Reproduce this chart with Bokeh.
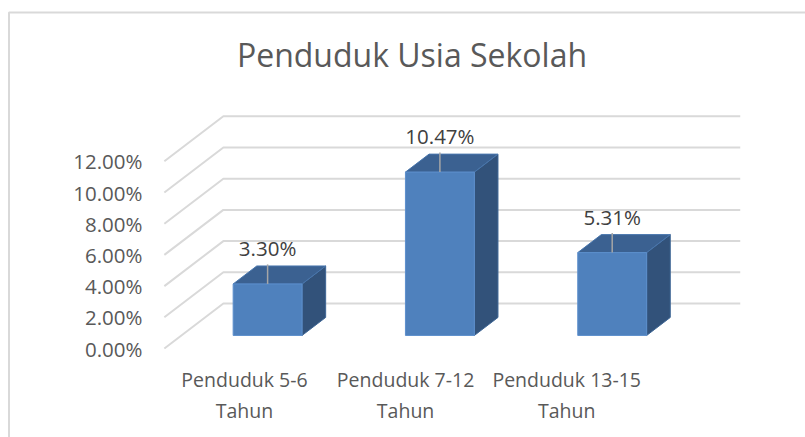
from bokeh.plotting import figure
from bokeh.models import ColumnDataSource, Range1d
from bokeh.embed import file_html
from bokeh.resources import INLINE
from bokeh.core.properties import value

# ---------------- data ----------------
chart_title = "Penduduk Usia Sekolah"
categories = ["Penduduk 5-6 Tahun", "Penduduk 7-12 Tahun", "Penduduk 13-15 Tahun"]
values = [3.30, 10.47, 5.31]
data_labels = ["3.30%", "10.47%", "5.31%"]
y_ticks = [0, 2, 4, 6, 8, 10, 12]
y_tick_labels = ["0.00%", "2.00%", "4.00%", "6.00%", "8.00%", "10.00%", "12.00%"]

# ---------------- layout constants ----------------
W, H = 805, 437
PX_CAT = 172.3      # pixels per category step
PX_PCT = 15.6       # pixels per percent point
ORIGIN_X = 250.0    # canvas px of category 0 (front plane)
ORIGIN_Y = 348.0    # canvas px (from top) of 0 % (front plane)
DEPTH_PX = (59.0, 45.0)
DX = DEPTH_PX[0] / PX_CAT
DY = DEPTH_PX[1] / PX_PCT
BAR_D0, BAR_D1 = 0.29, 0.69
BAR_W = 0.40
WALL_L, WALL_R = -0.5, 2.5

FONT = value("Open Sans")
GRID_C = "#d9d9d9"
TEXT_C = "#595959"
LABEL_C = "#404040"

def cx(px):
    return (px - ORIGIN_X) / PX_CAT

def cy(py):
    return (ORIGIN_Y - py) / PX_PCT

p = figure(width=W, height=H, title=None, min_border=0,
           x_range=Range1d(cx(0), cx(W)), y_range=Range1d(cy(H), cy(0)),
           x_axis_type=None, y_axis_type=None,
           toolbar_location=None, output_backend="svg")
p.outline_line_color = None
p.background_fill_color = "white"
p.border_fill_color = "white"

# chart border (left & top)
p.line(x=[cx(8.5), cx(8.5), cx(W)], y=[cy(H), cy(12), cy(12)],
       line_color=GRID_C, line_width=2)

# gridlines: side wall + back wall
gx, gy = [], []
for v in y_ticks:
    gx.append([WALL_L, WALL_L + DX, WALL_R + DX])
    gy.append([v, v + DY, v + DY])
p.multi_line(xs=gx, ys=gy, line_color=GRID_C, line_width=2)

# bars
ddx = (BAR_D1 - BAR_D0) * DX
ddy = (BAR_D1 - BAR_D0) * DY
fl, fr, fb, ft = [], [], [], []
top_x, top_y, side_x, side_y = [], [], [], []
for i, v in enumerate(values):
    xl = i - BAR_W / 2 + BAR_D0 * DX
    xr = i + BAR_W / 2 + BAR_D0 * DX
    yb = BAR_D0 * DY
    yt = v + BAR_D0 * DY
    fl.append(xl); fr.append(xr); fb.append(yb); ft.append(yt)
    top_x.append([xl, xr, xr + ddx, xl + ddx])
    top_y.append([yt, yt, yt + ddy, yt + ddy])
    side_x.append([xr, xr + ddx, xr + ddx, xr])
    side_y.append([yb, yb + ddy, yt + ddy, yt])

p.patches(xs=side_x, ys=side_y, fill_color="#32527a", line_color="#3f6796", line_width=1)
p.patches(xs=top_x, ys=top_y, fill_color="#3b6191", line_color="#4876ad", line_width=1)
p.quad(left=fl, right=fr, bottom=fb, top=ft, fill_color="#4f81bd",
       line_color="#5d8fcc", line_width=1)

# leader lines
lx = [i + BAR_D0 * DX for i in range(len(values))]
ly0 = [v + BAR_D0 * DY for v in values]
ly1 = [v + BAR_D1 * DY + 0.1 for v in values]
p.segment(x0=lx, y0=ly0, x1=lx, y1=ly1, line_color="#a6a6a6", line_width=1.5)

# data labels
src_lab = ColumnDataSource(dict(x=lx, y=[v + BAR_D1 * DY + 18 / PX_PCT for v in values],
                                t=data_labels))
p.text(x="x", y="y", text="t", source=src_lab, text_font=FONT, text_font_size="20.5px",
       text_color=LABEL_C, text_align="center", text_baseline="middle")

# y tick labels
src_y = ColumnDataSource(dict(x=[cx(142)] * len(y_ticks), y=y_ticks, t=y_tick_labels))
p.text(x="x", y="y", text="t", source=src_y, text_font=FONT, text_font_size="20.5px",
       text_color=TEXT_C, text_align="right", text_baseline="middle")

# category labels (two lines)
CAT_X0, CAT_STEP = cx(244), 0.935
line1 = [c.rsplit(" ", 1)[0] for c in categories]
line2 = [c.rsplit(" ", 1)[1] for c in categories]
cat_x = [CAT_X0 + CAT_STEP * i for i in range(len(categories))]
p.text(x=cat_x, y=[cy(379)] * len(categories), text=line1, text_font=FONT,
       text_font_size="19.5px", text_color=TEXT_C, text_align="center",
       text_baseline="middle")
p.text(x=cat_x, y=[cy(410)] * len(categories), text=line2, text_font=FONT,
       text_font_size="19.5px", text_color=TEXT_C, text_align="center",
       text_baseline="middle")

# title
p.text(x=[cx(411.5)], y=[cy(54)], text=[chart_title], text_font=FONT,
       text_font_size="32px", text_color=TEXT_C, text_align="center",
       text_baseline="middle")

open("out.html", "w").write(file_html(p, INLINE))
